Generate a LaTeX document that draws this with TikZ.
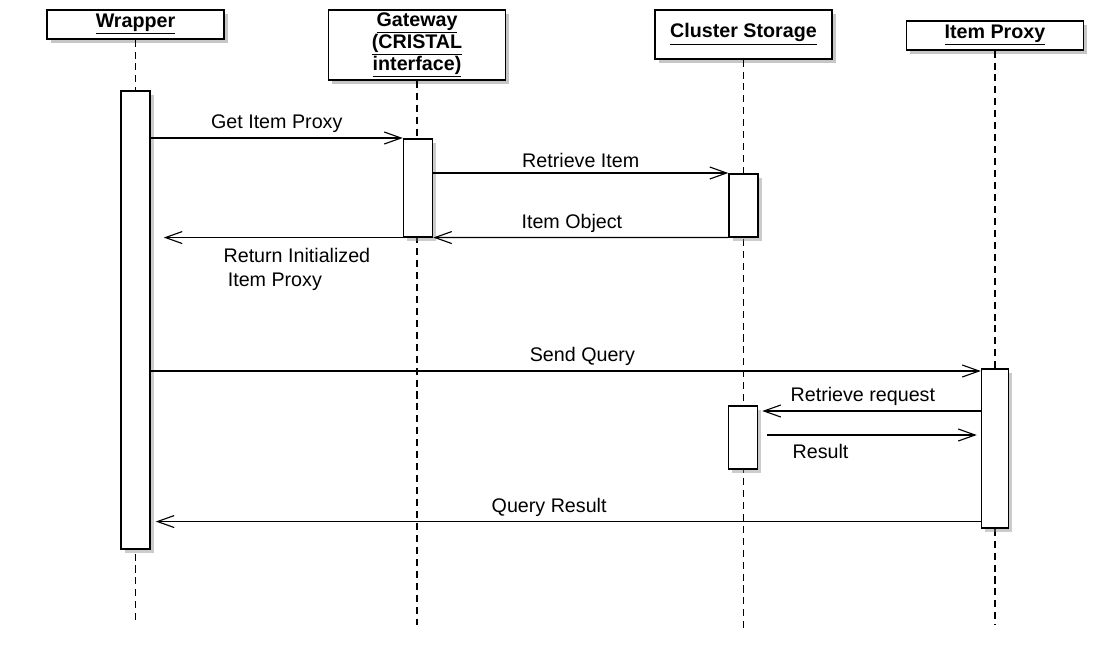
\documentclass[tikz,border=0pt]{standalone}
\usepackage{fontspec}
\setmainfont{Liberation Sans}
\usetikzlibrary{arrows.meta,calc,shadows}

\begin{document}
\begin{tikzpicture}[x=0.025cm,y=-0.025cm,font=\fontsize{14}{17}\selectfont]
            \def\px{0.025cm}
            \tikzset{
                actor/.style={draw,line width=1.1pt,fill=white,anchor=north,minimum width=177*\px,
                    align=center,inner sep=2pt,font=\fontsize{14}{15.6}\selectfont\bfseries,
                    drop shadow={shadow xshift=2.5pt,shadow yshift=-3pt,opacity=.45}},
                act/.style={draw,line width=1.1pt,fill=white,anchor=north,minimum width=29*\px,inner sep=0pt,
                    drop shadow={shadow xshift=2.5pt,shadow yshift=-3pt,opacity=.4}},
                lifeline/.style={line width=.8pt,dash pattern=on 5pt off 3.5pt},
                msg/.style={line width=.8pt,-{Straight Barb[length=4.2mm,width=3mm,line width=.8pt]}},}
            \useasboundingbox (0,0) rectangle (1109,646);
            % heads
            \node[actor,minimum height=29*\px] (wrap) at (135.5,9) {\underline{Wrapper}};
            \node[actor,minimum height=64*\px] (gate) at (417,9) {\underline{Gateway}\\\underline{(CRISTAL}\\\underline{interface)}};
            \node[actor,minimum height=49*\px] (clus) at (743.5,9) {\underline{Cluster Storage}};
            \node[actor,minimum height=29*\px] (prox) at (995,20) {\underline{Item Proxy}};
            % lifelines
            \foreach \a/\x/\e in {wrap/135.5/625,gate/417/625,clus/743.5/630,prox/995/625}{
                \coordinate (\a end) at (\x,\e);
                \draw[lifeline] (\a.south) -- (\a end);}
            % activations
            \node[act,minimum height=458*\px] (wact) at (135.5,90) {};
            \node[act,minimum height=98*\px] (gact) at (418,138) {};
            \node[act,minimum height=63*\px] (cact1) at (743.5,173) {};
            \node[act,minimum height=63*\px] (cact2) at (743,405) {};
            \node[act,minimum width=27*\px,minimum height=159*\px] (pact) at (995,368) {};
            % messages
            \draw[msg] (wact.east |- gact.north) -- node[above] {Get Item Proxy} (gact.north west);
            \draw[msg] (gact.east |- cact1.north) -- node[above] {Retrieve Item} (cact1.north west);
            \draw[msg] (cact1.south west) -- node[above,pos=.53] {Item Object} (gact.south east);
            \draw[msg,shorten >=13*\px] (gact.south west) -- node[below=4pt,pos=.42,align=left]
                {Return Initialized\\\hspace{3pt}Item Proxy} (wact.east |- gact.south);
            \draw[msg] ($(wact.east |- pact.north)+(0,3)$) -- node[above,pos=.52] {Send Query} ($(pact.north west)+(0,3)$);
            \draw[msg,shorten >=4*\px] ($(pact.west |- cact2.north)+(0,6)$) -- node[above,pos=.53] {Retrieve request} ($(cact2.north east)+(0,6)$);
            \draw[msg,shorten <=9*\px,shorten >=4*\px] ($(cact2.north east)+(0,30)$) -- node[below=3pt,pos=.28] {Result} ($(pact.west |- cact2.north)+(0,30)$);
            \draw[msg,shorten >=5*\px] ($(pact.south west)+(0,-7)$) -- node[above,pos=.52] {Query Result} ($(wact.east |- pact.south)+(0,-7)$);
        \end{tikzpicture}
\end{document}
